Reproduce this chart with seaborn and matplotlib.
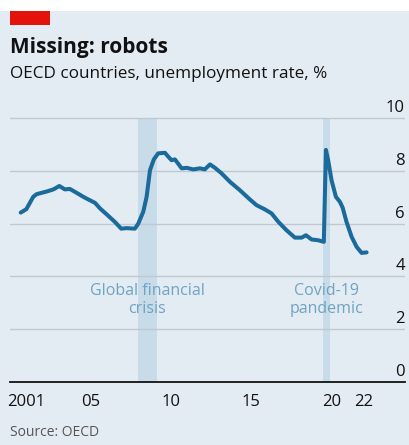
import matplotlib
matplotlib.use("Agg")
import matplotlib.pyplot as plt
import matplotlib.transforms as mtransforms
import numpy as np
import pandas as pd
import seaborn as sns

# OECD unemployment rate, % (decimal year, value)
years = [2001.15, 2001.5, 2001.93, 2002.14, 2002.76, 2003.18, 2003.55, 2003.9,
         2004.2, 2004.63, 2005.04, 2005.35, 2005.77, 2006.08, 2006.5, 2007.0,
         2007.4, 2007.74, 2008.25, 2008.46, 2008.77, 2008.98, 2009.19, 2009.43,
         2009.7, 2010.12, 2010.33, 2010.53, 2010.74, 2011.16, 2011.47, 2011.88,
         2012.3, 2012.6, 2012.92, 2013.23, 2013.64, 2014.16, 2014.78, 2015.4,
         2015.82, 2016.34, 2016.75, 2017.17, 2017.68, 2018.2, 2018.62, 2018.89,
         2019.24, 2019.65, 2020.0, 2020.13, 2020.27, 2020.48, 2020.75, 2021.0,
         2021.17, 2021.41, 2021.73, 2022.04, 2022.35, 2022.66]
rate = [6.42, 6.55, 7.02, 7.12, 7.22, 7.3, 7.43, 7.3,
        7.32, 7.17, 7.02, 6.92, 6.79, 6.58, 6.35, 6.07,
        5.81, 5.83, 5.81, 6.0, 6.45, 7.02, 8.03, 8.44,
        8.67, 8.69, 8.54, 8.41, 8.44, 8.1, 8.12, 8.06,
        8.1, 8.06, 8.25, 8.12, 7.91, 7.59, 7.27, 6.92,
        6.7, 6.54, 6.39, 6.07, 5.75, 5.47, 5.47, 5.56,
        5.4, 5.37, 5.31, 8.8, 8.41, 7.65, 7.02, 6.83,
        6.61, 6.07, 5.5, 5.12, 4.89, 4.91]

# Shaded episodes
episodes = ["Global financial\ncrisis", "Covid-19\npandemic"]
episode_start = [2008.46, 2019.97]
episode_end = [2009.6, 2020.38]
episode_label_x = [2009.0, 2020.19]

y_ticks = [0, 2, 4, 6, 8, 10]
x_label_years = [2001, 2005, 2010, 2015, 2020, 2022]
x_label_text = ["2001", "05", "10", "15", "20", "22"]

BG = "#e3ecf3"
LINE = "#1a6a9c"
SHADE = "#c8dbe8"
ANNOT = "#6fa3c3"
GRID = "#c0c9cf"

sns.set_style("white")
plt.rcParams["font.family"] = ["Open Sans", "DejaVu Sans"]

W, H = 410, 445
fig = plt.figure(figsize=(W / 100, H / 100), dpi=100)
fig.patch.set_facecolor("white")

# light panel below the thin white strip
fig.add_artist(plt.Rectangle((0, 0), 1, 1 - 11 / H, transform=fig.transFigure,
                             facecolor=BG, edgecolor="none", zorder=0))
fig.add_artist(plt.Rectangle((10 / W, 1 - 25 / H), 40 / W, 14 / H,
                             transform=fig.transFigure, facecolor="#e3120b",
                             edgecolor="none", zorder=1))

ymax = 10.1
px_per_unit = 26.34
y0_px = 381.7
top_px = y0_px - ymax * px_per_unit
ax = fig.add_axes([10 / W, 1 - y0_px / H, 395 / W, (y0_px - top_px) / H])
ax.set_facecolor("none")

x_left = 2001 + (10 - 18.3) / 16.08
x_right = 2001 + (405 - 18.3) / 16.08
ax.set_xlim(x_left, x_right)
ax.set_ylim(0, ymax)

for s, e in zip(episode_start, episode_end):
    ax.axvspan(s, e, ymin=0, ymax=10 / ymax, facecolor=SHADE, edgecolor="none", zorder=1)

for v in y_ticks[1:]:
    ax.axhline(v, color=GRID, lw=1.0, zorder=2)

df = pd.DataFrame({"year": years, "rate": rate})
sns.lineplot(data=df, x="year", y="rate", ax=ax, color=LINE, lw=2.9,
             zorder=4, solid_capstyle="round", solid_joinstyle="round")

for txt, xc in zip(episodes, episode_label_x):
    ax.text(xc, 3.75, txt, ha="center", va="top", color=ANNOT, fontsize=11.5,
            linespacing=1.15, zorder=3)

# y labels sit just above their gridlines at the right edge
trans = mtransforms.blended_transform_factory(ax.transAxes, ax.transData)
off = mtransforms.offset_copy(trans, fig=fig, x=0, y=2, units="dots")
for v in y_ticks:
    ax.text(1.0, v, str(v), transform=off, ha="right", va="bottom",
            fontsize=12, color="#111111")

for side in ["top", "left", "right"]:
    ax.spines[side].set_visible(False)
ax.spines["bottom"].set_color("#111111")
ax.spines["bottom"].set_linewidth(1.3)
ax.spines["bottom"].set_zorder(5)

ax.set_yticks([])
ax.set_xticks(list(range(2001, 2024)))
ax.set_xticklabels([])
ax.set_xticks([y + 0.5 for y in x_label_years], minor=True)
ax.set_xticklabels(x_label_text, minor=True)
ax.tick_params(axis="x", which="major", direction="out", length=5.5, width=1.1,
               color="#111111")
ax.tick_params(axis="x", which="minor", length=0, pad=9, labelsize=12,
               labelcolor="#111111")
ax.set_xlabel("")
ax.set_ylabel("")

fig.text(10 / W, 1 - 53 / H, "Missing: robots", fontsize=15, fontweight="bold",
         ha="left", va="baseline", color="#111111")
fig.text(10 / W, 1 - 78 / H, "OECD countries, unemployment rate, %", fontsize=12.3,
         ha="left", va="baseline", color="#111111")
fig.text(10 / W, 1 - 436 / H, "Source: OECD", fontsize=10, ha="left",
         va="baseline", color="#555555")

fig.savefig("out.png", dpi=100, facecolor=fig.get_facecolor())
